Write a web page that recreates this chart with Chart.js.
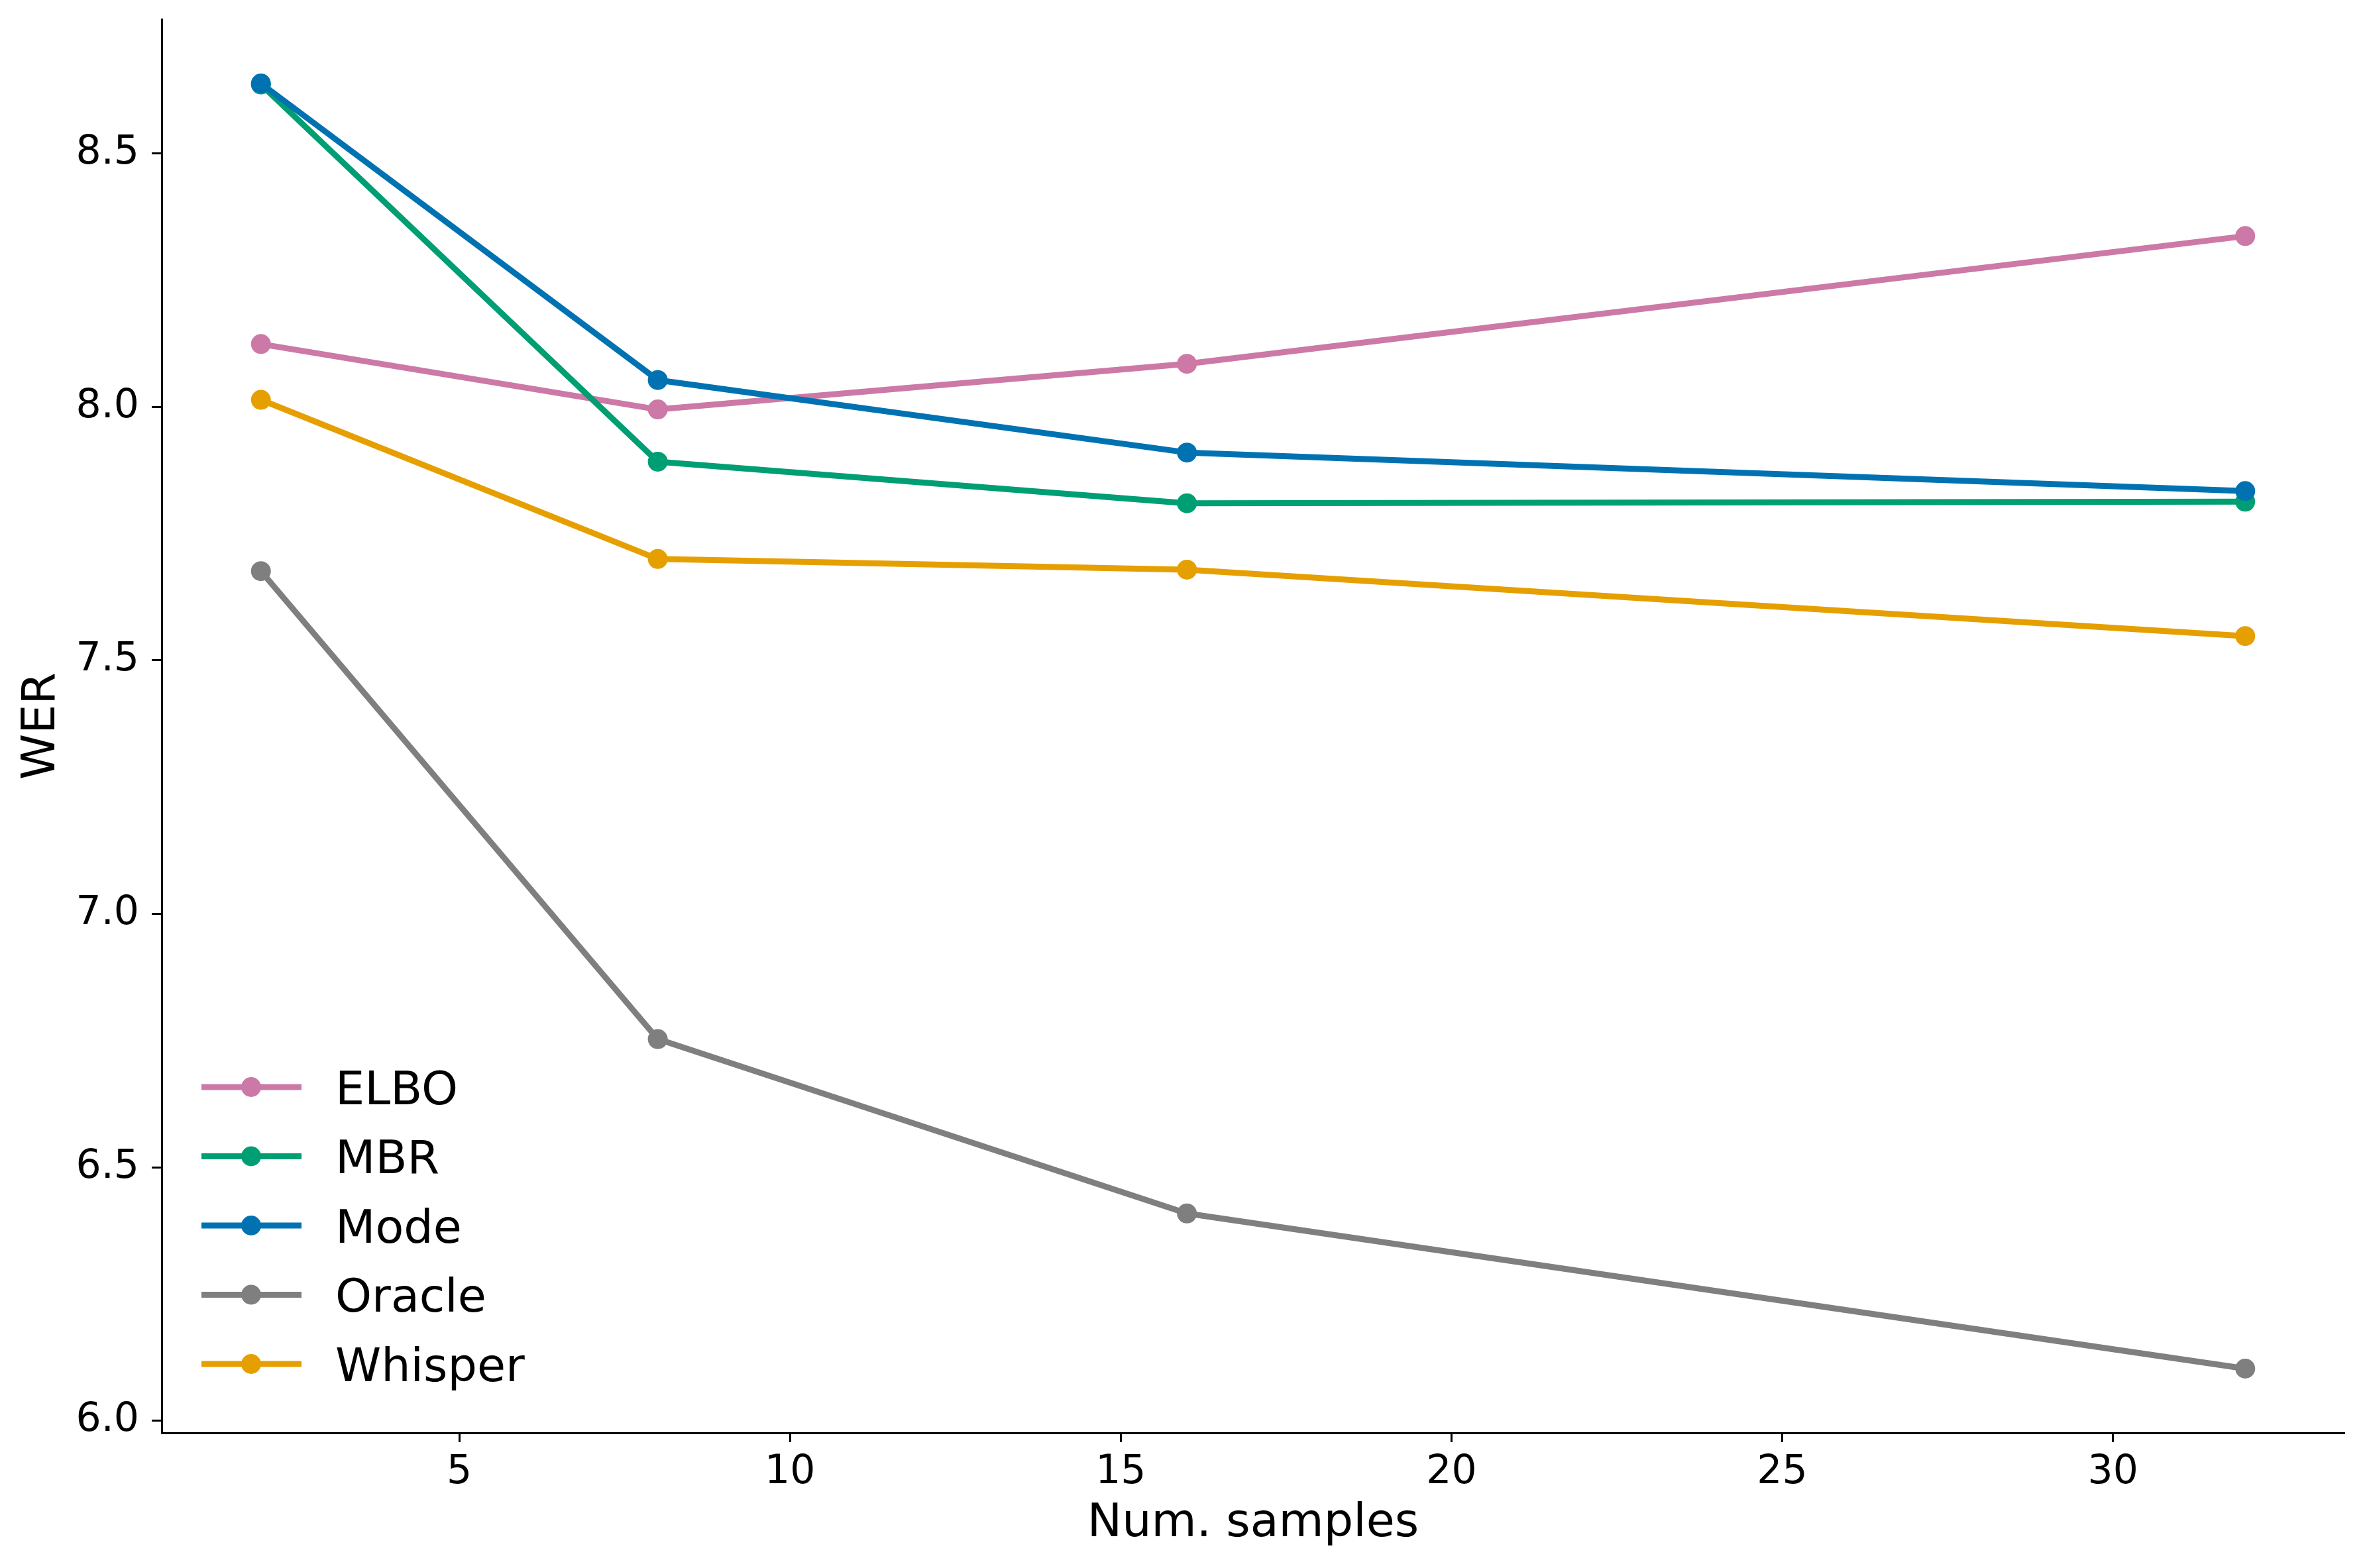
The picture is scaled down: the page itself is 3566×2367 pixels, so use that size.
<!DOCTYPE html>
<html>
<head>
<meta charset="utf-8">
<script src="https://cdn.jsdelivr.net/npm/chart.js@4"></script>
<style>
html,body{margin:0;padding:0;background:#fff;}
#wrap{width:3566px;height:2367px;position:relative;}
</style>
</head>
<body>
<div id="wrap"><canvas id="c" width="3566" height="2367"></canvas></div>
<script>
// ---- data ----
const numSamples = [2, 8, 16, 32];
const seriesNames = ["ELBO", "MBR", "Mode", "Oracle", "Whisper"];
const elbo    = [8.124, 7.995, 8.085, 8.337];
const mbr     = [8.636, 7.892, 7.810, 7.813];
const mode    = [8.638, 8.053, 7.910, 7.834];
const oracle  = [7.676, 6.753, 6.409, 6.103];
const whisper = [8.014, 7.700, 7.679, 7.548];
const xTicks = [5, 10, 15, 20, 25, 30];
const yTicks = [6.0, 6.5, 7.0, 7.5, 8.0, 8.5];
const xLabel = "Num. samples";
const yLabel = "WER";
const colors = ["#CC79A7", "#009E73", "#0072B2", "#7F7F7F", "#E69F00"];

const allSeries = [elbo, mbr, mode, oracle, whisper];
const FONT = "'DejaVu Sans', sans-serif";
const LINE_W = 9;
const MARK_R = 15;
const LEG_FONT = 70;

const datasets = allSeries.map((vals, i) => ({
  label: seriesNames[i],
  data: vals.map((v, j) => ({x: numSamples[j], y: v})),
  borderColor: colors[i],
  backgroundColor: colors[i],
  pointBackgroundColor: colors[i],
  pointBorderWidth: 0,
  pointRadius: MARK_R,
  pointHoverRadius: MARK_R,
  borderWidth: LINE_W,
  borderJoinStyle: 'round',
  tension: 0,
  fill: false,
  order: allSeries.length - 1 - i
}));

// x/y ranges with matplotlib-like 5% margins
const allY = allSeries.flat();
const yMinD = Math.min(...allY), yMaxD = Math.max(...allY);
const yPad = (yMaxD - yMinD) * 0.05;
const xMinD = Math.min(...numSamples), xMaxD = Math.max(...numSamples);
const xPad = (xMaxD - xMinD) * 0.05;

const legendPlugin = {
  id: 'mplLegend',
  afterDatasetsDraw(chart) {
    const ctx = chart.ctx;
    const area = chart.chartArea;
    const rowH = 104.5;
    const n = seriesNames.length;
    const lastY = area.bottom - 104;
    ctx.save();
    for (let i = 0; i < n; i++) {
      const cy = lastY - (n - 1 - i) * rowH;
      const x0 = area.left + 60, x1 = area.left + 211, xm = area.left + 135;
      ctx.strokeStyle = colors[i];
      ctx.lineWidth = LINE_W;
      ctx.lineCap = 'butt';
      ctx.beginPath(); ctx.moveTo(x0, cy); ctx.lineTo(x1, cy); ctx.stroke();
      ctx.fillStyle = colors[i];
      ctx.beginPath(); ctx.arc(xm, cy, MARK_R, 0, Math.PI * 2); ctx.fill();
      ctx.fillStyle = '#000';
      ctx.font = LEG_FONT + "px " + FONT;
      ctx.textAlign = 'left';
      ctx.textBaseline = 'alphabetic';
      ctx.fillText(seriesNames[i], area.left + 262, cy + 0.3645 * LEG_FONT);
    }
    ctx.restore();
  }
};

function noPad(s) { s.paddingTop = 0; s.paddingBottom = 0; s.paddingLeft = 0; s.paddingRight = 0; }

new Chart(document.getElementById('c'), {
  type: 'line',
  data: { datasets },
  options: {
    responsive: false,
    devicePixelRatio: 1,
    animation: false,
    events: [],
    layout: { padding: { top: 29, right: 28, left: 0, bottom: 0 } },
    plugins: { legend: { display: false }, tooltip: { enabled: false } },
    scales: {
      x: {
        type: 'linear',
        min: xMinD - xPad,
        max: xMaxD + xPad,
        afterBuildTicks: s => { s.ticks = xTicks.map(v => ({value: v})); },
        afterFit: s => { s.height = 204; noPad(s); },
        grid: { display: true, drawOnChartArea: false, drawTicks: true, tickLength: 14, tickWidth: 3, tickColor: '#000' },
        border: { display: true, color: '#000', width: 3 },
        ticks: { color: '#000', font: { family: FONT, size: 60 }, padding: 10, maxRotation: 0, autoSkip: false,
                 callback: v => String(v) },
        title: { display: true, text: xLabel, color: '#000', font: { family: FONT, size: 70 }, padding: { top: 0, bottom: 24 } }
      },
      y: {
        type: 'linear',
        min: yMinD - yPad,
        max: yMaxD + yPad,
        afterBuildTicks: s => { s.ticks = yTicks.map(v => ({value: v})); },
        afterFit: s => { s.width = 244; noPad(s); },
        grid: { display: true, drawOnChartArea: false, drawTicks: true, tickLength: 15, tickWidth: 3, tickColor: '#000' },
        border: { display: true, color: '#000', width: 3 },
        ticks: { color: '#000', font: { family: FONT, size: 60 }, padding: 19, autoSkip: false,
                 callback: v => Number(v).toFixed(1) },
        title: { display: true, text: yLabel, color: '#000', font: { family: FONT, size: 70 }, padding: { top: 22, bottom: 0 } }
      }
    }
  },
  plugins: [legendPlugin]
});
</script>
</body>
</html>
